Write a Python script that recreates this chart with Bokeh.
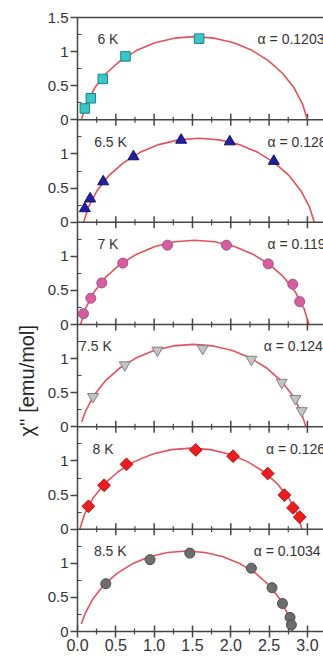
import math
from bokeh.plotting import figure
from bokeh.models import Range1d, LinearAxis, FixedTicker, Span, Title
from bokeh.core.properties import value
from bokeh.embed import file_html
from bokeh.resources import INLINE

# ---------------- data ----------------
temperatures = ["6 K", "6.5 K", "7 K", "7.5 K", "8 K", "8.5 K"]
alpha_labels = ["α = 0.1203", "α = 0.1281", "α = 0.1195", "α = 0.1243", "α = 0.1262", "α = 0.1034"]

# measured points chi' (x) and chi'' (y), one list per temperature
chi1_6K = [0.096, 0.174, 0.33, 0.626, 1.587]
chi2_6K = [0.166, 0.316, 0.60, 0.93, 1.19]
chi1_6p5K = [0.096, 0.165, 0.335, 0.73, 1.352, 1.987, 2.561]
chi2_6p5K = [0.20, 0.343, 0.594, 0.961, 1.204, 1.18, 0.894]
chi1_7K = [0.078, 0.174, 0.317, 0.591, 1.174, 1.944, 2.49, 2.809, 2.9]
chi2_7K = [0.158, 0.385, 0.61, 0.90, 1.163, 1.163, 0.889, 0.59, 0.335]
chi1_7p5K = [0.203, 0.617, 1.043, 1.634, 2.269, 2.665, 2.843, 2.926]
chi2_7p5K = [0.442, 0.906, 1.122, 1.147, 0.988, 0.651, 0.412, 0.235]
chi1_8K = [0.143, 0.347, 0.639, 1.543, 2.03, 2.482, 2.70, 2.812, 2.90]
chi2_8K = [0.335, 0.643, 0.95, 1.161, 1.069, 0.816, 0.499, 0.312, 0.177]
chi1_8p5K = [0.369, 0.947, 1.465, 2.269, 2.538, 2.674, 2.773, 2.791]
chi2_8p5K = [0.70, 1.053, 1.149, 0.928, 0.642, 0.41, 0.207, 0.097]

# fitted curves
fit1_6K = [0.05, 0.114, 0.225, 0.375, 0.560, 0.774, 1.011, 1.264, 1.525, 1.786, 2.039, 2.276, 2.490, 2.675, 2.826, 2.936, 3.0]
fit2_6K = [0, 0.232, 0.469, 0.683, 0.868, 1.019, 1.129, 1.197, 1.220, 1.197, 1.129, 1.019, 0.868, 0.683, 0.469, 0.232, 0]
fit1_6p5K = [0.08, 0.142, 0.255, 0.408, 0.598, 0.817, 1.060, 1.318, 1.585, 1.852, 2.110, 2.353, 2.572, 2.762, 2.915, 3.028, 3.09]
fit2_6p5K = [0, 0.219, 0.461, 0.681, 0.870, 1.024, 1.137, 1.206, 1.229, 1.206, 1.137, 1.024, 0.870, 0.681, 0.461, 0.219, 0]
fit1_7K = [0.04, 0.105, 0.217, 0.368, 0.555, 0.772, 1.011, 1.267, 1.53, 1.793, 2.049, 2.288, 2.505, 2.692, 2.843, 2.955, 3.02]
fit2_7K = [0, 0.237, 0.476, 0.693, 0.880, 1.031, 1.143, 1.212, 1.235, 1.212, 1.143, 1.031, 0.880, 0.693, 0.476, 0.237, 0]
fit1_7p5K = [0.055, 0.102, 0.213, 0.362, 0.547, 0.761, 0.998, 1.250, 1.51, 1.770, 2.022, 2.259, 2.473, 2.658, 2.808, 2.918, 2.98]
fit2_7p5K = [0.07, 0.222, 0.459, 0.673, 0.858, 1.008, 1.118, 1.186, 1.208, 1.186, 1.118, 1.008, 0.858, 0.673, 0.459, 0.222, 0]
fit1_8K = [0.03, 0.090, 0.199, 0.347, 0.529, 0.741, 0.974, 1.223, 1.48, 1.737, 1.986, 2.219, 2.431, 2.613, 2.761, 2.870, 2.93]
fit2_8K = [0, 0.215, 0.449, 0.660, 0.842, 0.990, 1.099, 1.166, 1.188, 1.166, 1.099, 0.990, 0.842, 0.660, 0.449, 0.215, 0]
fit1_8p5K = [0.05, 0.096, 0.200, 0.341, 0.515, 0.716, 0.938, 1.176, 1.42, 1.665, 1.902, 2.124, 2.325, 2.501, 2.640, 2.744, 2.81]
fit2_8p5K = [0.11, 0.254, 0.477, 0.678, 0.851, 0.992, 1.096, 1.159, 1.181, 1.159, 1.096, 0.992, 0.851, 0.678, 0.477, 0.254, 0]

x_ticks = [0.0, 0.5, 1.0, 1.5, 2.0, 2.5, 3.0]
x_tick_labels = ["0.0", "0.5", "1.0", "1.5", "2.0", "2.5", "3.0"]
x_minor_ticks = [0.25, 0.75, 1.25, 1.75, 2.25, 2.75]
y_ticks = [0.0, 0.5, 1.0]
y_tick_labels = ["0", "0.5", "1"]
y_top_tick = 1.5
y_top_tick_label = "1.5"
y_minor_ticks = [0.25, 0.75, 1.25]
y_axis_title = "χ'' [emu/mol]"

meas_x = [chi1_6K, chi1_6p5K, chi1_7K, chi1_7p5K, chi1_8K, chi1_8p5K]
meas_y = [chi2_6K, chi2_6p5K, chi2_7K, chi2_7p5K, chi2_8K, chi2_8p5K]
fit_x = [fit1_6K, fit1_6p5K, fit1_7K, fit1_7p5K, fit1_8K, fit1_8p5K]
fit_y = [fit2_6K, fit2_6p5K, fit2_7K, fit2_7p5K, fit2_8K, fit2_8p5K]

# ---------------- styles ----------------
FONT = "Liberation Sans"
AX = "#454545"
TXT = "#333333"
CURVE = "#e4505c"
PANEL_H = 1.5
N = len(temperatures)

markers = ["square", "triangle", "circle", "inverted_triangle", "square", "circle"]
m_angle = [0, 0, 0, 0, math.pi / 4, 0]
m_size = [9.5, 11, 10, 11, 9, 10]
m_fill = ["#35c8cc", "#1f1fa8", "#dd5a9e", "#c4c4c4", "#f01c1c", "#6e6e6e"]
m_line = ["#1d7f86", "#101060", "#8a5a92", "#808080", "#b01010", "#4a4a4a"]
label_x = [0.26, 0.217, 0.26, 0.02, 0.196, 0.214]
alpha_x = [2.35, 2.48, 2.48, 2.43, 2.46, 2.30]
text_y = 1.18

p = figure(width=323, height=657, output_backend="svg", toolbar_location=None,
           x_range=Range1d(0, 3.21), y_range=Range1d(0, N * PANEL_H),
           min_border_left=77, min_border_right=0, min_border_top=17, min_border_bottom=26)
p.outline_line_color = None
p.xgrid.visible = False
p.ygrid.visible = False
p.background_fill_color = "white"
p.border_fill_color = "white"

# left axis: one axis, repeated panel ticks
maj, minr, over = [], [], {}
for b in range(N):
    for t, lab in zip(y_ticks, y_tick_labels):
        v = b * PANEL_H + t
        maj.append(v)
        over[v] = lab
    for m in y_minor_ticks:
        minr.append(b * PANEL_H + m)
top_v = (N - 1) * PANEL_H + y_top_tick
maj.append(top_v)
over[top_v] = y_top_tick_label
ya = p.yaxis[0]
ya.ticker = FixedTicker(ticks=maj, minor_ticks=minr)
ya.major_label_overrides = over
ya.major_tick_out = 7
ya.major_tick_in = 0
ya.minor_tick_in = 4
ya.minor_tick_out = 0
ya.axis_line_color = AX
ya.axis_line_width = 1.5
ya.major_tick_line_color = AX
ya.major_tick_line_width = 1.5
ya.minor_tick_line_color = AX
ya.minor_tick_line_width = 1.2
ya.major_label_text_font = FONT
ya.major_label_text_font_size = "15px"
ya.major_label_text_color = TXT
ya.major_label_standoff = 2

xa = p.xaxis[0]
xa.ticker = FixedTicker(ticks=x_ticks, minor_ticks=x_minor_ticks)
xa.major_label_overrides = {t: l for t, l in zip(x_ticks, x_tick_labels)}
xa.major_tick_in = 6
xa.major_tick_out = 6
xa.minor_tick_in = 3
xa.minor_tick_out = 3
xa.axis_line_color = AX
xa.axis_line_width = 1.5
xa.major_tick_line_color = AX
xa.major_tick_line_width = 1.5
xa.minor_tick_line_color = AX
xa.minor_tick_line_width = 1.2
xa.major_label_text_font = FONT
xa.major_label_text_font_size = "16px"
xa.major_label_text_color = TXT
xa.major_label_standoff = 1

top = LinearAxis(ticker=FixedTicker(ticks=[]), major_tick_in=0, major_tick_out=0,
                 minor_tick_in=0, minor_tick_out=0, major_label_text_font_size="0px",
                 axis_line_color=AX, axis_line_width=1.5)
p.add_layout(top, "above")

# y axis title (placed on the left, shifted down as in the original)
p.add_layout(Title(text=y_axis_title, align="left", offset=195, text_font=FONT,
                   text_font_size="20px", text_font_style="normal", text_color="#222222",
                   standoff=14), "left")

# panel separators with crossing ticks
for b in range(1, N):
    yb = b * PANEL_H
    p.add_layout(Span(location=yb, dimension="width", line_color=AX, line_width=1.5))
    p.scatter(x=x_ticks[1:], y=[yb] * (len(x_ticks) - 1), marker="dash", angle=math.pi / 2,
              size=12, line_color=AX, line_width=1.5)
    p.scatter(x=x_minor_ticks, y=[yb] * len(x_minor_ticks), marker="dash", angle=math.pi / 2,
              size=6, line_color=AX, line_width=1.2)

# panels
for i in range(N):
    b = N - 1 - i
    name = f"p{i}"
    p.extra_y_ranges[name] = Range1d(start=-b * PANEL_H, end=N * PANEL_H - b * PANEL_H)
    p.line(fit_x[i], fit_y[i], y_range_name=name, line_color=CURVE, line_width=1.6)
    p.scatter(meas_x[i], meas_y[i], y_range_name=name, marker=markers[i], size=m_size[i],
              angle=m_angle[i], fill_color=m_fill[i], line_color=m_line[i], line_width=1)
    p.text(x=[label_x[i]], y=[text_y], text=[temperatures[i]], y_range_name=name,
           text_font=value(FONT), text_font_size="14px", text_color=TXT,
           text_baseline="middle", text_align="left")
    p.text(x=[alpha_x[i]], y=[text_y], text=[alpha_labels[i]], y_range_name=name,
           text_font=value(FONT), text_font_size="14px", text_color=TXT,
           text_baseline="middle", text_align="left")

open("out.html", "w").write(file_html(p, INLINE))
